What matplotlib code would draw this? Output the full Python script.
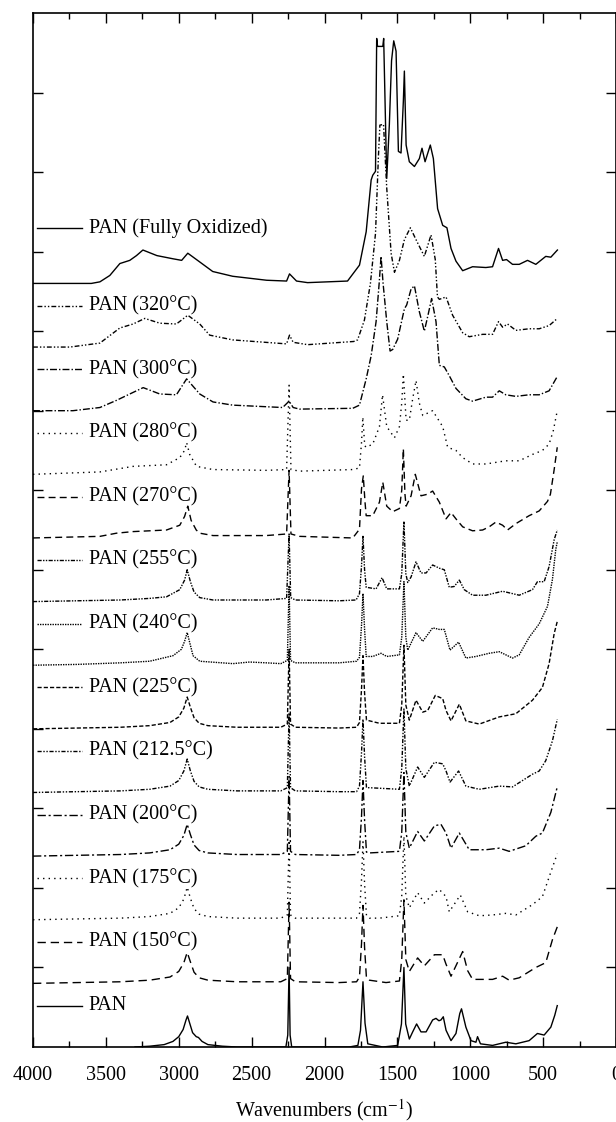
import matplotlib
matplotlib.use('Agg')
import matplotlib.pyplot as plt
import numpy as np

plt.rcParams.update({
    'font.family': ['Liberation Serif', 'DejaVu Serif'],
    'mathtext.fontset': 'stix',
    'font.size': 14.5,
})

# FTIR spectra of PAN fibres after stabilisation at increasing temperatures.
# Each list holds (wavenumber, absorbance above the trace's own baseline).
labels = ['PAN', 'PAN (150°C)', 'PAN (175°C)', 'PAN (200°C)', 'PAN (212.5°C)',
          'PAN (225°C)', 'PAN (240°C)', 'PAN (255°C)', 'PAN (270°C)',
          'PAN (280°C)', 'PAN (300°C)', 'PAN (320°C)', 'PAN (Fully Oxidized)']

pan = [(3300, 0.0), (3200, 0.01), (3100, 0.03), (3040, 0.07), (3000, 0.13), (2970, 0.22),
       (2950, 0.34), (2940, 0.39), (2925, 0.30), (2905, 0.18), (2880, 0.13), (2865, 0.12),
       (2840, 0.07), (2800, 0.03), (2700, 0.01), (2600, 0.0), (2265, 0.0), (2252, 0.15),
       (2243, 1.0), (2236, 0.15), (2225, 0.0), (1830, 0.0), (1771, 0.02), (1753, 0.21),
       (1736, 0.82), (1722, 0.30), (1703, 0.04), (1600, 0.0), (1498, 0.02), (1472, 0.29),
       (1455, 1.0), (1443, 0.29), (1418, 0.10), (1395, 0.19), (1368, 0.29), (1338, 0.19),
       (1303, 0.19), (1258, 0.34), (1235, 0.36), (1215, 0.33), (1201, 0.34), (1185, 0.38),
       (1166, 0.21), (1132, 0.08), (1098, 0.17), (1072, 0.42), (1060, 0.48), (1030, 0.25),
       (995, 0.08), (961, 0.06), (950, 0.13), (930, 0.04), (847, 0.02), (756, 0.06),
       (687, 0.04), (596, 0.08), (539, 0.17), (493, 0.15), (447, 0.25), (420, 0.40),
       (403, 0.52)]

pan_150 = [(4000, 0.0), (3700, 0.01), (3400, 0.02), (3200, 0.04), (3060, 0.08), (3000, 0.15),
           (2965, 0.26), (2942, 0.39), (2920, 0.27), (2895, 0.14), (2860, 0.07), (2800, 0.04),
           (2600, 0.02), (2300, 0.02), (2255, 0.06), (2243, 1.02), (2233, 0.06), (2200, 0.02),
           (1900, 0.01), (1780, 0.02), (1760, 0.08), (1746, 0.50), (1736, 0.98), (1725, 0.45),
           (1712, 0.06), (1692, 0.04), (1578, 0.01), (1486, 0.03), (1470, 0.30), (1455, 1.05),
           (1442, 0.30), (1418, 0.15), (1361, 0.32), (1315, 0.22), (1246, 0.36), (1189, 0.36),
           (1166, 0.24), (1132, 0.09), (1052, 0.40), (1018, 0.16), (984, 0.05), (847, 0.05),
           (778, 0.09), (733, 0.04), (664, 0.07), (550, 0.20), (482, 0.26), (436, 0.55),
           (403, 0.71)]

pan_175 = [(4000, 0.0), (3700, 0.01), (3400, 0.02), (3200, 0.04), (3060, 0.08), (3000, 0.15),
           (2965, 0.26), (2942, 0.41), (2920, 0.27), (2895, 0.14), (2860, 0.07), (2800, 0.04),
           (2600, 0.02), (2300, 0.02), (2255, 0.06), (2243, 1.0), (2233, 0.06), (2200, 0.02),
           (1900, 0.02), (1780, 0.02), (1760, 0.08), (1746, 0.50), (1736, 0.98), (1725, 0.45),
           (1712, 0.05), (1692, 0.02), (1623, 0.02), (1486, 0.05), (1470, 0.30), (1455, 1.05),
           (1442, 0.30), (1418, 0.15), (1361, 0.34), (1315, 0.21), (1246, 0.34), (1212, 0.38),
           (1166, 0.29), (1144, 0.10), (1068, 0.31), (1018, 0.10), (938, 0.05), (847, 0.06),
           (756, 0.08), (687, 0.06), (573, 0.19), (505, 0.29), (447, 0.60), (403, 0.83)]

pan_200 = [(4000, 0.0), (3700, 0.01), (3400, 0.02), (3200, 0.04), (3060, 0.08), (3000, 0.15),
           (2965, 0.26), (2942, 0.40), (2920, 0.27), (2895, 0.14), (2860, 0.07), (2800, 0.04),
           (2600, 0.02), (2300, 0.02), (2255, 0.06), (2243, 1.0), (2233, 0.06), (2200, 0.02),
           (1900, 0.01), (1780, 0.02), (1760, 0.08), (1746, 0.50), (1736, 0.95), (1725, 0.45),
           (1712, 0.05), (1692, 0.04), (1486, 0.06), (1470, 0.30), (1455, 1.05), (1442, 0.30),
           (1418, 0.10), (1361, 0.31), (1315, 0.19), (1246, 0.38), (1201, 0.40), (1166, 0.29),
           (1132, 0.10), (1075, 0.29), (1007, 0.08), (893, 0.08), (801, 0.10), (733, 0.06),
           (619, 0.13), (550, 0.25), (505, 0.29), (447, 0.55), (403, 0.87)]

pan_212 = [(4000, 0.0), (3700, 0.01), (3400, 0.02), (3200, 0.04), (3060, 0.08), (3000, 0.15),
           (2965, 0.27), (2942, 0.42), (2920, 0.27), (2895, 0.14), (2860, 0.07), (2800, 0.04),
           (2600, 0.02), (2300, 0.02), (2255, 0.06), (2243, 1.0), (2233, 0.06), (2200, 0.02),
           (1900, 0.01), (1780, 0.01), (1760, 0.08), (1746, 0.50), (1736, 0.92), (1725, 0.45),
           (1712, 0.06), (1692, 0.06), (1486, 0.04), (1470, 0.30), (1455, 1.05), (1442, 0.30),
           (1418, 0.08), (1361, 0.32), (1315, 0.19), (1246, 0.38), (1189, 0.36), (1166, 0.27),
           (1139, 0.13), (1080, 0.27), (1030, 0.08), (938, 0.04), (801, 0.08), (710, 0.07),
           (573, 0.23), (527, 0.27), (482, 0.40), (436, 0.65), (403, 0.92)]

pan_225 = [(4000, 0.0), (3700, 0.01), (3400, 0.02), (3200, 0.04), (3060, 0.08), (3000, 0.15),
           (2965, 0.26), (2942, 0.40), (2920, 0.27), (2895, 0.14), (2860, 0.07), (2800, 0.04),
           (2600, 0.02), (2300, 0.02), (2255, 0.06), (2243, 1.0), (2233, 0.06), (2200, 0.02),
           (1900, 0.01), (1780, 0.02), (1760, 0.08), (1746, 0.50), (1736, 0.92), (1725, 0.45),
           (1712, 0.11), (1623, 0.07), (1486, 0.07), (1470, 0.30), (1455, 1.05), (1442, 0.30),
           (1418, 0.11), (1372, 0.36), (1326, 0.21), (1292, 0.23), (1240, 0.42), (1189, 0.38),
           (1166, 0.23), (1132, 0.10), (1075, 0.31), (1030, 0.10), (938, 0.06), (801, 0.15),
           (687, 0.19), (573, 0.36), (505, 0.52), (459, 0.82), (424, 1.20), (403, 1.35)]

pan_240 = [(4000, 0.0), (3700, 0.01), (3400, 0.03), (3200, 0.05), (3039, 0.12), (2982, 0.20),
           (2960, 0.30), (2942, 0.41), (2920, 0.25), (2902, 0.12), (2856, 0.05), (2628, 0.02),
           (2514, 0.04), (2400, 0.03), (2300, 0.02), (2255, 0.06), (2243, 1.0), (2233, 0.06),
           (2200, 0.03), (1900, 0.03), (1780, 0.05), (1760, 0.10), (1746, 0.50), (1736, 0.90),
           (1725, 0.45), (1714, 0.11), (1669, 0.11), (1612, 0.15), (1573, 0.11), (1486, 0.13),
           (1470, 0.35), (1455, 1.05), (1442, 0.35), (1429, 0.19), (1372, 0.41), (1326, 0.30),
           (1258, 0.47), (1212, 0.45), (1178, 0.45), (1139, 0.19), (1080, 0.29), (1030, 0.09),
           (961, 0.11), (870, 0.15), (801, 0.17), (710, 0.09), (664, 0.13), (596, 0.35),
           (527, 0.52), (470, 0.74), (436, 1.08), (413, 1.46), (403, 1.55)]

pan_255 = [(4000, 0.0), (3700, 0.01), (3400, 0.02), (3200, 0.04), (3084, 0.06), (2993, 0.15),
           (2960, 0.27), (2942, 0.40), (2920, 0.25), (2895, 0.12), (2856, 0.05), (2765, 0.02),
           (2400, 0.02), (2260, 0.04), (2243, 0.85), (2232, 0.05), (2200, 0.02), (1900, 0.01),
           (1783, 0.02), (1760, 0.10), (1746, 0.45), (1736, 0.82), (1725, 0.40), (1714, 0.18),
           (1646, 0.16), (1605, 0.30), (1573, 0.16), (1486, 0.16), (1470, 0.35), (1455, 1.0),
           (1442, 0.35), (1429, 0.24), (1406, 0.31), (1372, 0.50), (1338, 0.36), (1303, 0.36),
           (1258, 0.46), (1212, 0.42), (1178, 0.40), (1144, 0.18), (1110, 0.19), (1075, 0.27),
           (1041, 0.15), (984, 0.08), (893, 0.08), (778, 0.13), (664, 0.08), (573, 0.15),
           (539, 0.25), (493, 0.25), (459, 0.44), (424, 0.78), (403, 0.90)]

pan_270 = [(4000, 0.0), (3541, 0.02), (3427, 0.06), (3313, 0.08), (3084, 0.10), (2993, 0.16),
           (2960, 0.27), (2938, 0.40), (2915, 0.22), (2880, 0.10), (2856, 0.06), (2765, 0.03),
           (2400, 0.03), (2260, 0.05), (2243, 0.85), (2230, 0.05), (2171, 0.02), (1806, 0.0),
           (1760, 0.11), (1746, 0.62), (1734, 0.78), (1722, 0.45), (1714, 0.28), (1669, 0.28),
           (1623, 0.45), (1600, 0.70), (1573, 0.40), (1532, 0.33), (1486, 0.37), (1470, 0.60),
           (1459, 1.12), (1448, 0.55), (1440, 0.40), (1406, 0.53), (1377, 0.80), (1338, 0.53),
           (1292, 0.55), (1258, 0.59), (1212, 0.45), (1166, 0.24), (1132, 0.32), (1098, 0.24),
           (1052, 0.14), (984, 0.09), (915, 0.10), (870, 0.14), (824, 0.20), (778, 0.16),
           (744, 0.10), (687, 0.18), (596, 0.28), (527, 0.34), (470, 0.46), (450, 0.55),
           (425, 0.85), (403, 1.14)]

pan_280 = [(4000, 0.0), (3541, 0.03), (3313, 0.10), (3084, 0.12), (2993, 0.21), (2960, 0.30),
           (2946, 0.40), (2925, 0.25), (2878, 0.10), (2765, 0.06), (2400, 0.05), (2260, 0.06),
           (2243, 1.12), (2230, 0.06), (2171, 0.04), (1806, 0.06), (1760, 0.08), (1746, 0.40),
           (1737, 0.72), (1724, 0.36), (1714, 0.34), (1669, 0.38), (1623, 0.60), (1602, 1.0),
           (1573, 0.60), (1520, 0.46), (1486, 0.60), (1470, 0.90), (1459, 1.26), (1440, 0.68),
           (1418, 0.68), (1395, 0.95), (1372, 1.18), (1350, 0.90), (1326, 0.74), (1258, 0.80),
           (1189, 0.60), (1155, 0.34), (1098, 0.30), (1052, 0.21), (984, 0.13), (893, 0.13),
           (756, 0.17), (664, 0.17), (573, 0.25), (505, 0.30), (459, 0.38), (430, 0.55),
           (403, 0.80)]

pan_300 = [(4000, 0.0), (3726, 0.0), (3541, 0.04), (3427, 0.13), (3336, 0.21), (3244, 0.29),
           (3130, 0.21), (3016, 0.20), (2946, 0.40), (2856, 0.21), (2765, 0.11), (2630, 0.07),
           (2287, 0.04), (2243, 0.12), (2215, 0.04), (2171, 0.02), (1806, 0.03), (1760, 0.07),
           (1714, 0.40), (1680, 0.69), (1646, 1.12), (1625, 1.60), (1612, 1.94), (1598, 1.60),
           (1573, 1.12), (1550, 0.75), (1532, 0.77), (1498, 0.90), (1452, 1.28), (1436, 1.33),
           (1406, 1.53), (1383, 1.57), (1350, 1.25), (1315, 1.0), (1290, 1.20), (1265, 1.41),
           (1235, 1.12), (1212, 0.57), (1178, 0.55), (1144, 0.44), (1098, 0.28), (1030, 0.15),
           (984, 0.12), (893, 0.17), (847, 0.17), (801, 0.25), (756, 0.20), (687, 0.18),
           (596, 0.20), (527, 0.20), (459, 0.25), (403, 0.43)]

pan_320 = [(4000, 0.0), (3747, 0.0), (3541, 0.05), (3404, 0.24), (3313, 0.29), (3233, 0.36),
           (3130, 0.30), (3016, 0.29), (2938, 0.40), (2856, 0.29), (2788, 0.15), (2630, 0.09),
           (2260, 0.04), (2240, 0.15), (2215, 0.06), (2116, 0.03), (1800, 0.07), (1773, 0.09),
           (1726, 0.34), (1685, 0.80), (1650, 1.43), (1630, 2.40), (1620, 2.79), (1595, 2.80),
           (1573, 2.0), (1543, 1.18), (1520, 0.94), (1486, 1.09), (1452, 1.35), (1411, 1.50),
           (1372, 1.35), (1315, 1.14), (1269, 1.41), (1240, 1.10), (1225, 0.63), (1212, 0.60),
           (1166, 0.63), (1121, 0.40), (1052, 0.18), (1007, 0.13), (915, 0.16), (847, 0.16),
           (806, 0.32), (778, 0.25), (744, 0.29), (687, 0.21), (596, 0.23), (527, 0.23),
           (459, 0.27), (402, 0.36)]

pan_oxidized = [(4000, 0.0), (3600, 0.0), (3541, 0.02), (3473, 0.10), (3404, 0.25), (3336, 0.29),
                (3290, 0.35), (3246, 0.42), (3150, 0.35), (3040, 0.31), (2980, 0.29), (2938, 0.38),
                (2856, 0.27), (2767, 0.15), (2630, 0.09), (2397, 0.04), (2260, 0.03), (2240, 0.12),
                (2192, 0.03), (2116, 0.01), (1842, 0.03), (1760, 0.23), (1714, 0.65), (1680, 1.30),
                (1669, 1.36), (1650, 1.41), (1642, 3.08), (1636, 2.98), (1600, 2.98), (1594, 3.08),
                (1573, 1.32), (1555, 2.0), (1540, 2.80), (1525, 3.05), (1509, 2.92), (1493, 1.66),
                (1475, 1.64), (1459, 2.29), (1452, 2.67), (1440, 1.74), (1418, 1.53), (1383, 1.47),
                (1349, 1.57), (1331, 1.70), (1310, 1.53), (1274, 1.74), (1253, 1.57), (1224, 0.94),
                (1189, 0.73), (1160, 0.70), (1132, 0.44), (1098, 0.28), (1052, 0.16), (984, 0.21),
                (893, 0.20), (847, 0.21), (806, 0.44), (778, 0.29), (751, 0.30), (710, 0.24),
                (664, 0.24), (607, 0.29), (550, 0.24), (482, 0.34), (447, 0.33), (402, 0.42)]

spectra = [pan, pan_150, pan_175, pan_200, pan_212, pan_225, pan_240, pan_255,
           pan_270, pan_280, pan_300, pan_320, pan_oxidized]

linestyles = [
    '-',
    (0, (6, 3.5)),
    (0, (1, 3)),
    (0, (6, 2, 1.5, 2)),
    (0, (3, 1.2, 1, 1.2, 1, 1.2)),
    (0, (3, 1.5)),
    (0, (1, 0.8)),
    (0, (3, 1, 1, 1, 1, 1)),
    (0, (5, 3)),
    (0, (1, 3)),
    (0, (5, 1.5, 1, 1.5)),
    (0, (3.5, 1.5, 1, 1.5, 1, 1.5)),
    '-',
]

step = 0.8  # vertical stacking offset between spectra

fig = plt.figure(figsize=(6.16, 11.22), dpi=100)
ax = fig.add_axes([33 / 616, 1 - 1047 / 1122, (616 - 33) / 616, (1047 - 13) / 1122])

for i, (spec, label, ls) in enumerate(zip(spectra, labels, linestyles)):
    wn, ab = np.array(spec).T
    base = i * step
    ax.plot(wn, ab + base, color='black', lw=1.0, linestyle=ls)
    # key sample + name sitting above each trace
    ly = base + (0.70 if i == len(spectra) - 1 else 0.52)
    ax.plot([3973, 3664], [ly, ly], color='black', lw=1.0, linestyle=ls)
    ax.text(3617, ly, label, va='center', ha='left', fontsize=14.5)

ax.set_xlim(4000, 0)
ax.set_ylim(0, 13)
ax.set_xticks(np.arange(4000, -1, -500))
ax.set_xticks(np.arange(3750, 0, -500), minor=True)
ax.set_yticks(np.arange(1, 13))
ax.set_yticklabels([])
ax.tick_params(which='both', direction='in', top=True, right=True, width=1.0)
ax.tick_params(which='major', length=7, labelsize=14.5, pad=14)
ax.tick_params(which='minor', length=4)
for sp in ax.spines.values():
    sp.set_linewidth(1.2)
ax.set_xlabel('Wavenumbers (cm$^{-1}$)', fontsize=14.5, labelpad=8)

fig.savefig('out.png', dpi=100)
